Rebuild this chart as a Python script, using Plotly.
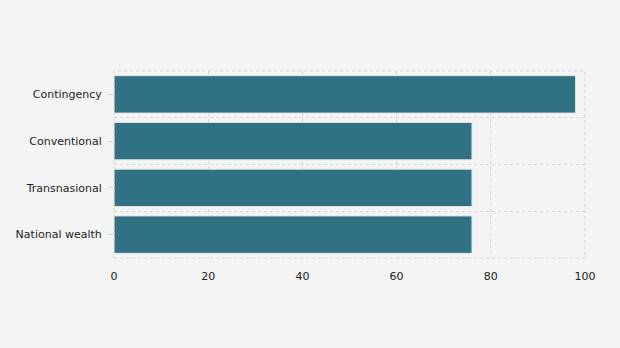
import plotly.graph_objects as go

categories = ["National wealth", "Transnasional", "Conventional", "Contingency"]
values = [76, 76, 76, 98]
x_ticks = [0, 20, 40, 60, 80, 100]

grid_color = "#d6d6d6"
grid_dash = "3px,3px"

fig = go.Figure()
fig.add_trace(go.Bar(
    x=values, y=categories, orientation="h",
    marker=dict(color="#307283", line=dict(color="#e6e6e6", width=1)),
    width=0.8, hoverinfo="x+y",
))
# invisible helper trace so the boundary grid axis is drawn
fig.add_trace(go.Scatter(
    x=values, y=categories, yaxis="y2", mode="markers",
    marker=dict(opacity=0), hoverinfo="skip",
))
fig.update_layout(
    width=620, height=348,
    paper_bgcolor="#f4f4f4", plot_bgcolor="#f4f4f4",
    margin=dict(l=114, r=35, t=71, b=90),
    font=dict(family="DejaVu Sans", size=11, color="#222222"),
    showlegend=False,
    xaxis=dict(range=[0, 100], tickvals=x_ticks, showgrid=True,
               gridcolor=grid_color, griddash=grid_dash, gridwidth=1,
               zeroline=False, showline=False, ticks="", ticklabelstandoff=10),
    yaxis=dict(type="category", categoryorder="array", categoryarray=categories,
               range=[-0.5, 3.5], showgrid=False,
               zeroline=False, showline=False, ticks="outside", ticklen=5,
               tickcolor=grid_color, tickwidth=1, ticklabelstandoff=4),
    yaxis2=dict(type="category", categoryorder="array", categoryarray=categories,
                range=[-0.5, 3.5], overlaying="y", side="left", tickson="boundaries",
                showgrid=True, gridcolor=grid_color, griddash=grid_dash, gridwidth=1,
                showticklabels=False, ticks="", zeroline=False, showline=False),
    shapes=[dict(type="rect", xref="paper", yref="paper", x0=0, x1=1, y0=0, y1=1,
                 line=dict(color=grid_color, width=1, dash=grid_dash), layer="above")],
)
fig.write_html("out.html")
